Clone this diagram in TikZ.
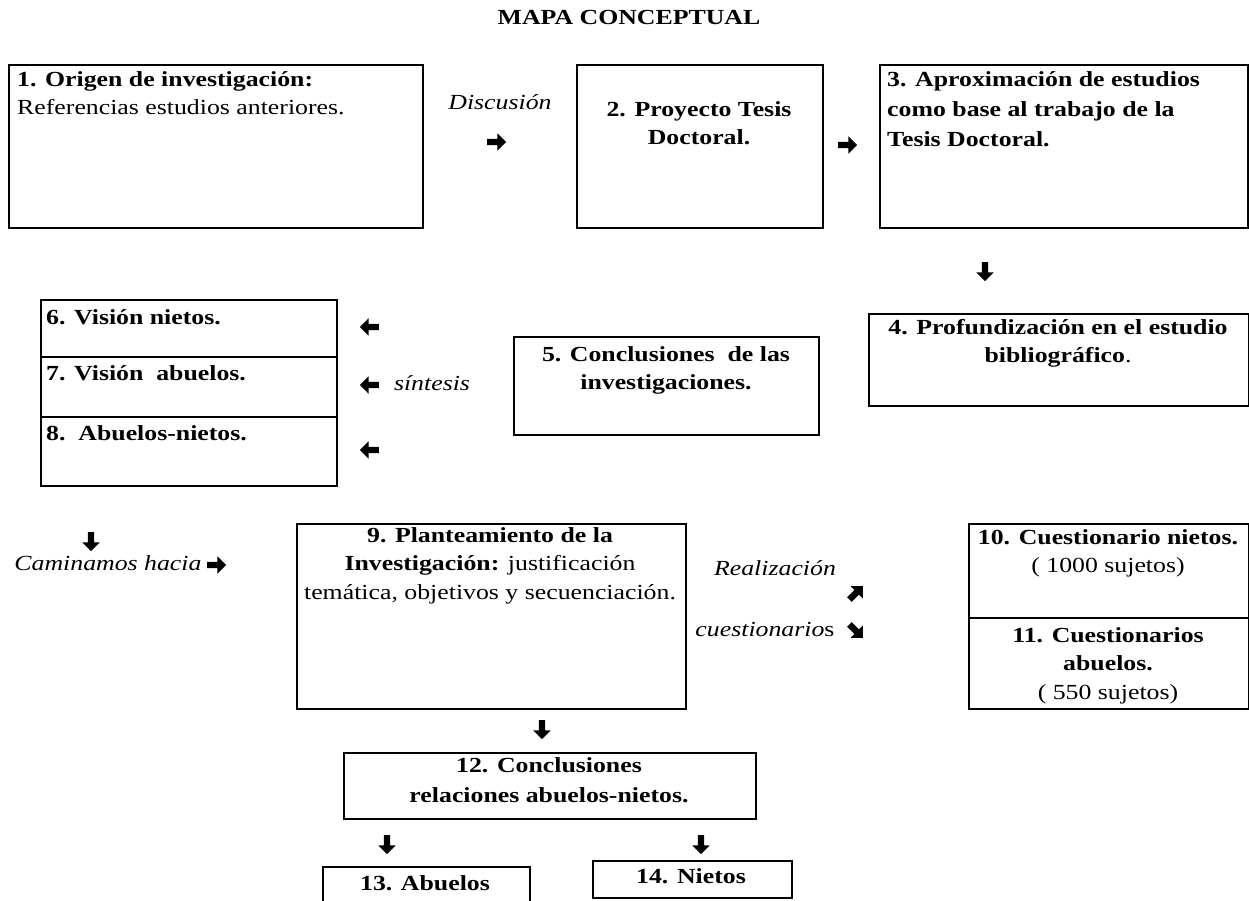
\documentclass[tikz,border=0pt]{standalone}
\usepackage{fontspec}
\setmainfont{Liberation Serif}[FakeStretch=1.2]
\usetikzlibrary{shapes.arrows,positioning}

\tikzset{
  caja/.style={draw, line width=2pt, inner sep=0pt, anchor=north west},
  texto/.style={inner sep=0pt, align=center, font=\fontsize{21.5}{28.5}\selectfont},
  flecha/.style={single arrow, fill=black, inner xsep=0pt, inner ysep=3pt,
    single arrow head extend=5.5pt, minimum height=19pt},
}

\begin{document}
\begin{tikzpicture}[x=1pt, y=-1pt]
        \useasboundingbox (0,0) rectangle (1249,901);
        \clip (0,0) rectangle (1249,901);
        \node[texto, anchor=base, font=\fontsize{21.5}{28.5}\selectfont\bfseries] (titulo) at (629,25) {MAPA CONCEPTUAL};
        % fila superior
        \node[caja, minimum width=414pt, minimum height=163pt] (c1) at (8,64) {};
        \node[caja, minimum width=246pt, minimum height=163pt] (c2) at (576,64) {};
        \node[caja, minimum width=368pt, minimum height=163pt] (c3) at (879,64) {};
        \node[texto, anchor=north west, align=left] (t1) at (17,71) {\textbf{1. Origen de investigación:}\\Referencias estudios anteriores.};
        \node[texto, anchor=north] (t2) at (699,101) {\textbf{2. Proyecto Tesis}\\\textbf{Doctoral.}};
        \node[texto, anchor=north west, align=left, font=\fontsize{21.5}{30}\selectfont\bfseries] (t3) at (887,71) {3. Aproximación de estudios\\como base al trabajo de la\\Tesis Doctoral.};
        \node[texto, anchor=base, font=\fontsize{21.5}{28.5}\selectfont\itshape] (discusion) at (500,110) {Discusión};
        \node[flecha] (f1) at (495,142) {};
        \node[flecha] (f2) at (846,145) {};
        \node[flecha, rotate=-90] (f3) at (985,270) {};
        % fila 2
        \node[caja, minimum width=380pt, minimum height=92pt] (c4) at (868,313) {};
        \node[texto, anchor=north] (t4) at (1058,319) {\textbf{4. Profundización en el estudio}\\\textbf{bibliográfico}.};
        \node[caja, minimum width=305pt, minimum height=98pt] (c5) at (513,336) {};
        \node[texto, anchor=north] (t5) at (666,346) {\textbf{5. Conclusiones\ \ de las}\\\textbf{investigaciones.}};
        \node[caja, minimum width=296pt, minimum height=57pt] (c6) at (40,299) {};
        \node[caja, minimum width=296pt, minimum height=60pt] (c7) at (40,356) {};
        \node[caja, minimum width=296pt, minimum height=69pt] (c8) at (40,416) {};
        \node[texto, anchor=base west] (t6) at (46,324) {\textbf{6. Visión nietos.}};
        \node[texto, anchor=base west] (t7) at (46,380) {\textbf{7. Visión\ \ abuelos.}};
        \node[texto, anchor=base west] (t8) at (46,440) {\textbf{8.\ \ Abuelos-nietos.}};
        \node[flecha, rotate=180] (f4) at (371,327) {};
        \node[flecha, rotate=180] (f5) at (371,385) {};
        \node[flecha, rotate=180] (f6) at (371,450) {};
        \node[texto, anchor=base, font=\fontsize{21.5}{28.5}\selectfont\itshape] (sintesis) at (432,390) {síntesis};
        % fila 3
        \node[flecha, rotate=-90] (f7) at (91,540) {};
        \node[texto, anchor=base, font=\fontsize{21.5}{28.5}\selectfont\itshape] (caminamos) at (108,570) {Caminamos hacia};
        \node[flecha] (f8) at (215,565) {};
        \node[caja, minimum width=389pt, minimum height=185pt] (c9) at (296,523) {};
        \node[texto, anchor=north] (t9) at (490,527) {\textbf{9. Planteamiento de la}\\\textbf{Investigación:} justificación\\temática, objetivos y secuenciación.};
        \node[texto, anchor=base, font=\fontsize{21.5}{28.5}\selectfont\itshape] (realizacion) at (775,575) {Realización};
        \node[flecha, rotate=45] (f9) at (855,594) {};
        \node[texto, anchor=base, font=\fontsize{21.5}{28.5}\selectfont\itshape] (cuestionarios) at (765,636) {cuestionario\textup{s}};
        \node[flecha, rotate=-45] (f10) at (855,630) {};
        \node[caja, minimum width=280pt, minimum height=94pt] (c10) at (968,523) {};
        \node[caja, minimum width=280pt, minimum height=91pt] (c11) at (968,617) {};
        \node[texto, anchor=north] (t10) at (1108,529) {\textbf{10. Cuestionario nietos.}\\( 1000 sujetos)};
        \node[texto, anchor=north] (t11) at (1108,627) {\textbf{11. Cuestionarios}\\\textbf{abuelos.}\\( 550 sujetos)};
        % conclusiones
        \node[flecha, rotate=-90] (f11) at (542,728) {};
        \node[caja, minimum width=412pt, minimum height=66pt] (c12) at (343,752) {};
        \node[texto, anchor=north, font=\fontsize{21.5}{30}\selectfont\bfseries] (t12) at (549,757) {12. Conclusiones\\relaciones abuelos-nietos.};
        \node[flecha, rotate=-90] (f12) at (387,843) {};
        \node[flecha, rotate=-90] (f13) at (701,843) {};
        \node[caja, minimum width=207pt, minimum height=60pt] (c13) at (322,866) {};
        \node[texto, anchor=base] (t13) at (425,890) {\textbf{13. Abuelos}};
        \node[caja, minimum width=199pt, minimum height=37pt] (c14) at (592,860) {};
        \node[texto, anchor=base] (t14) at (691,883) {\textbf{14. Nietos}};
    \end{tikzpicture}
\end{document}
